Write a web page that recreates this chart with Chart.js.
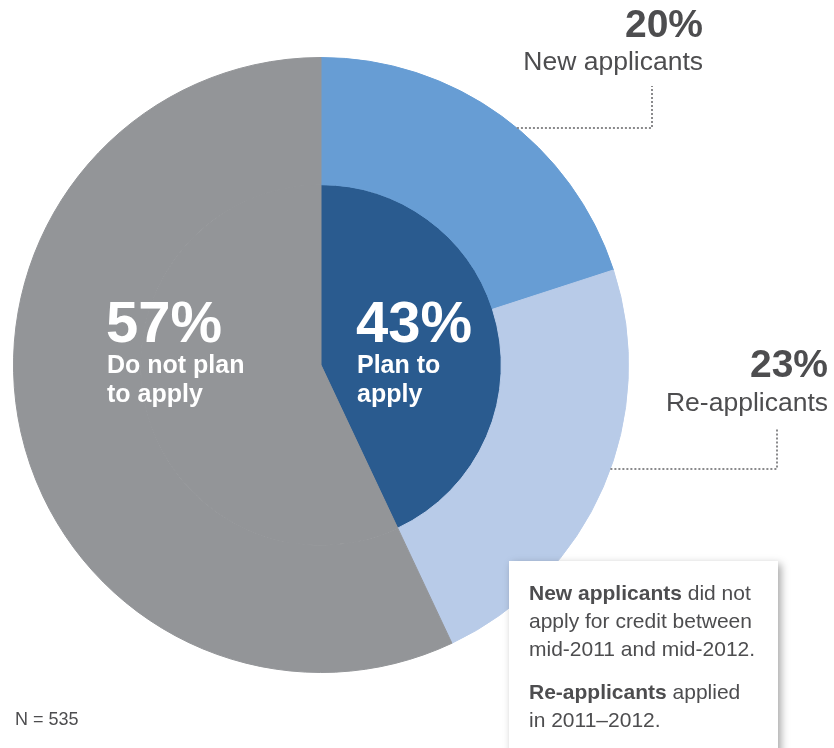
<!DOCTYPE html>
<html>
<head>
<meta charset="utf-8">
<script src="https://cdn.jsdelivr.net/npm/chart.js@4.4.1/dist/chart.umd.min.js"></script>
<style>
  body { margin: 0; background: #fff; }
  #wrap { position: relative; width: 834px; height: 748px; overflow: hidden; }
  #chart { position: absolute; left: 0; top: 0; }
  .note {
    position: absolute; left: 509px; top: 561px; width: 269px; height: 220px;
    background: #fff; box-shadow: 3px 3px 8px rgba(0,0,0,0.35);
    font-family: "Liberation Sans", Arial, sans-serif; font-size: 21px; line-height: 28px;
    color: #4d4d4f; box-sizing: border-box; padding: 18px 0 0 20px;
  }
  .note p { margin: 0 0 15px 0; }
  .note b { font-weight: bold; }
</style>
</head>
<body>
<div id="wrap">
  <canvas id="chart" width="834" height="748"></canvas>
  <div class="note">
    <p><b>New applicants</b> did not<br>apply for credit between<br>mid-2011 and mid-2012.</p>
    <p><b>Re-applicants</b> applied<br>in 2011–2012.</p>
  </div>
</div>
<script>
// Outer ring: new applicants / re-applicants / do not plan
const outerLabels = ['New applicants', 'Re-applicants', 'Do not plan to apply'];
const outerValues = [20, 23, 57];
const outerColors = ['#679dd4', '#b8cbe8', '#939598'];

// Inner pie: plan to apply / do not plan
const innerLabels = ['Plan to apply', 'Do not plan to apply'];
const innerValues = [43, 57];
const innerColors = ['#2a5b8f', '#939598'];

const sampleSize = 'N = 535';

const FONT = '"Liberation Sans", Arial, sans-serif';
const TEXT = '#4d4d4f';

function dottedPath(ctx, pts) {
  ctx.save();
  ctx.strokeStyle = '#8a8a8c';
  ctx.lineWidth = 2;
  ctx.setLineDash([2, 2]);
  ctx.beginPath();
  ctx.moveTo(pts[0][0], pts[0][1]);
  for (let i = 1; i < pts.length; i++) ctx.lineTo(pts[i][0], pts[i][1]);
  ctx.stroke();
  ctx.restore();
}

// labels, leaders and the N footnote
const labelPlugin = {
  id: 'labels',
  afterDraw(chart) {
    const ctx = chart.ctx;
    const arc = chart.getDatasetMeta(0).data[0];
    const cx = arc.x, cy = arc.y, r = arc.outerRadius;
    const edgeX = y => cx + Math.sqrt(r * r - (y - cy) * (y - cy));

    ctx.save();
    ctx.fillStyle = TEXT;
    ctx.textAlign = 'right';
    ctx.textBaseline = 'alphabetic';

    ctx.font = 'bold 39px ' + FONT;
    ctx.fillText(outerValues[0] + '%', 703, 37);
    ctx.font = '26.5px ' + FONT;
    ctx.fillText(outerLabels[0], 703, 70);

    ctx.font = 'bold 39px ' + FONT;
    ctx.fillText(outerValues[1] + '%', 828, 377);
    ctx.font = '26.5px ' + FONT;
    ctx.fillText(outerLabels[1], 828, 411);

    dottedPath(ctx, [[edgeX(128), 128], [652, 128], [652, 86]]);
    dottedPath(ctx, [[edgeX(469), 469], [777, 469], [777, 428]]);

    // in-slice labels
    ctx.fillStyle = '#fff';
    ctx.textAlign = 'left';
    ctx.font = 'bold 58px ' + FONT;
    ctx.fillText(outerValues[2] + '%', 106, 342);
    ctx.fillText(innerValues[0] + '%', 356, 342);
    ctx.font = 'bold 25px ' + FONT;
    ctx.fillText('Do not plan', 107, 373);
    ctx.fillText('to apply', 107, 402);
    ctx.fillText('Plan to', 357, 373);
    ctx.fillText('apply', 357, 402);

    ctx.fillStyle = TEXT;
    ctx.font = '18px ' + FONT;
    ctx.fillText(sampleSize, 15, 725);
    ctx.restore();
  }
};

new Chart(document.getElementById('chart'), {
  type: 'pie',
  data: {
    labels: outerLabels,
    datasets: [
      {
        data: outerValues,
        backgroundColor: outerColors,
        borderColor: outerColors,
        borderWidth: 1,
        weight: 127
      },
      {
        data: innerValues,
        backgroundColor: innerColors,
        borderColor: innerColors,
        borderWidth: 1,
        weight: 180
      }
    ]
  },
  options: {
    responsive: false,
    animation: false,
    layout: { padding: { left: 13, right: 205, top: 57, bottom: 75 } },
    plugins: {
      legend: { display: false },
      tooltip: { enabled: false }
    }
  },
  plugins: [labelPlugin]
});
</script>
</body>
</html>
